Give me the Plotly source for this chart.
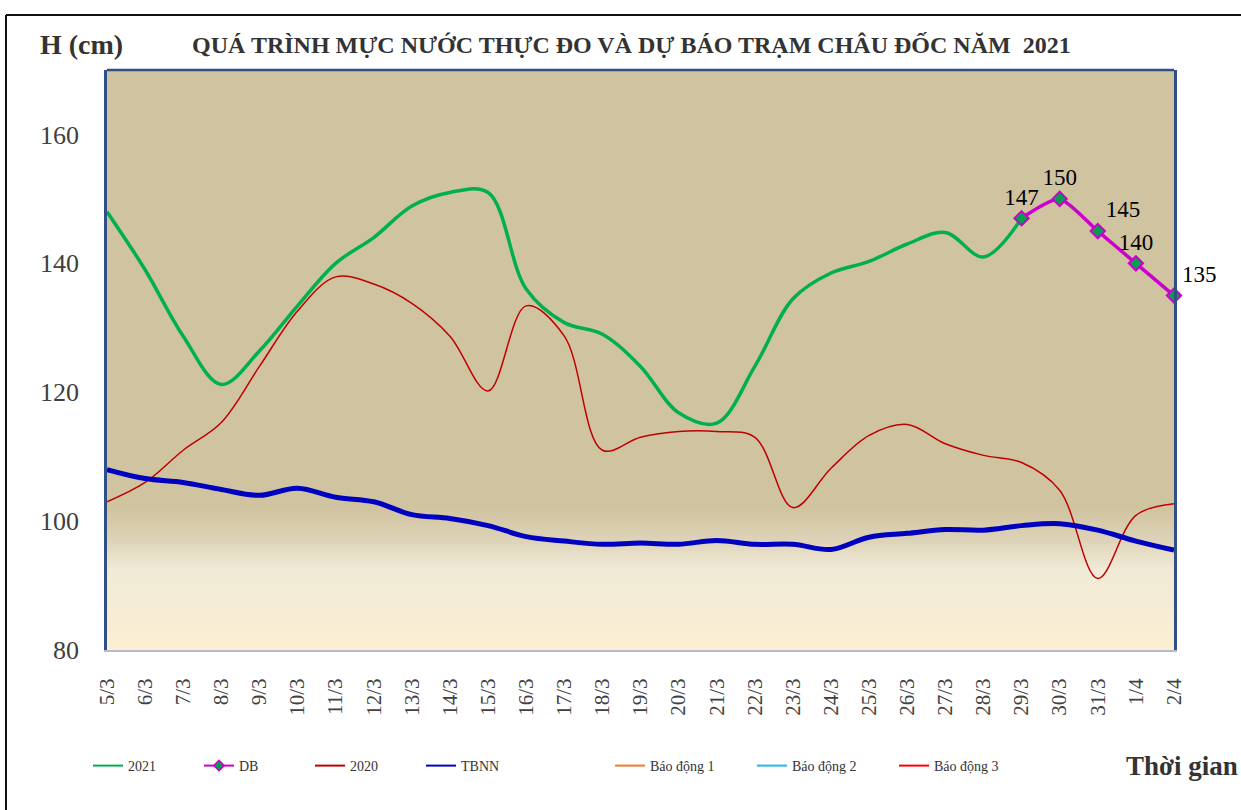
import plotly.graph_objects as go

# ---- data ----
dates = ["5/3", "6/3", "7/3", "8/3", "9/3", "10/3", "11/3", "12/3", "13/3", "14/3",
         "15/3", "16/3", "17/3", "18/3", "19/3", "20/3", "21/3", "22/3", "23/3", "24/3",
         "25/3", "26/3", "27/3", "28/3", "29/3", "30/3", "31/3", "1/4", "2/4"]

h2021 = [148, 139, 128.7, 121.2, 126.4, 133.4, 140, 144, 148.9, 151,
         151, 136, 130.8, 129, 124, 116.8, 115.2, 124, 134.5, 138.5,
         140.3, 143, 144.8, 141, 147]

db_dates = ["29/3", "30/3", "31/3", "1/4", "2/4"]
db_vals = [147, 150, 145, 140, 135]

h2020 = [103, 106, 111, 115.3, 124, 132.6, 137.9, 136.8, 133.8, 128.7,
         120.2, 133.4, 128.7, 111, 113, 113.9, 113.9, 113, 102.1, 108.2,
         113.3, 115, 112, 110.2, 109.1, 104.8, 91.1, 100.9, 102.7]

tbnn = [108, 106.6, 106, 104.9, 104, 105.1, 103.7, 103, 101, 100.4,
        99.3, 97.6, 96.9, 96.4, 96.6, 96.4, 97, 96.4, 96.4, 95.6,
        97.5, 98.1, 98.7, 98.6, 99.3, 99.6, 98.6, 96.9, 95.5]

# alarm levels at Chau Doc (off the visible range, legend only)
alarm_levels = {"Báo động 1": 350, "Báo động 2": 400, "Báo động 3": 450}
alarm_colors = {"Báo động 1": "#F07C28", "Báo động 2": "#1FB8F0", "Báo động 3": "#FF0000"}

FONT = "Liberation Serif, Times New Roman, serif"
W, H = 1241, 810
PL, PR, PT, PB = 107, 1174, 70, 650  # plot area in pixels


def px(x):
    return (x - PL) / (PR - PL)


def py(y):
    return (PB - y) / (PB - PT)


fig = go.Figure()

fig.add_trace(go.Scatter(
    x=dates[:len(h2021)], y=h2021, name="2021", mode="lines", showlegend=False,
    line=dict(color="#00B050", width=3.5, shape="spline", smoothing=1.0),
))
fig.add_trace(go.Scatter(
    x=db_dates, y=db_vals, name="DB", mode="lines+markers+text", showlegend=False,
    line=dict(color="#CC00CC", width=3.5, shape="spline", smoothing=0.6),
    marker=dict(symbol="diamond", size=11, color="#00A050",
                line=dict(color="#CC00CC", width=2)),
    text=[str(v) for v in db_vals],
    textposition=["top center", "top center", "top right", "top center", "top right"],
    textfont=dict(family=FONT, size=23, color="#000000"),
    cliponaxis=False,
))
fig.add_trace(go.Scatter(
    x=dates, y=h2020, name="2020", mode="lines", showlegend=False,
    line=dict(color="#C00000", width=1.5, shape="spline", smoothing=1.0),
))
fig.add_trace(go.Scatter(
    x=dates, y=tbnn, name="TBNN", mode="lines", showlegend=False,
    line=dict(color="#0000C0", width=5, shape="spline", smoothing=1.0),
))

# legend entries drawn thin, like the reference legend
legend_items = [("2021", "#00B050", False), ("DB", "#CC00CC", True),
                ("2020", "#C00000", False), ("TBNN", "#0000C0", False)]
for name, col, mk in legend_items:
    fig.add_trace(go.Scatter(
        x=[None], y=[None], name=name, mode="lines+markers" if mk else "lines",
        line=dict(color=col, width=2),
        marker=dict(symbol="diamond", size=8, color="#00A050",
                    line=dict(color="#CC00CC", width=1.5)),
        legend="legend",
    ))
for name, lvl in alarm_levels.items():
    fig.add_trace(go.Scatter(
        x=dates, y=[lvl] * len(dates), name=name, mode="lines",
        line=dict(color=alarm_colors[name], width=2),
        legend="legend2",
    ))

# background gradient near the bottom of the plot area
stops = [(0.0, (252, 239, 211)), (0.14, (240, 234, 214)),
         (0.19, (221, 211, 184)), (0.245, (208, 195, 160))]
shapes = []
n = 40
top = stops[-1][0]
for i in range(n):
    f0 = top * i / n
    f1 = top * (i + 1) / n
    fm = (f0 + f1) / 2
    for (a, ca), (b, cb) in zip(stops[:-1], stops[1:]):
        if a <= fm <= b:
            t = (fm - a) / (b - a)
            c = tuple(round(ca[k] + (cb[k] - ca[k]) * t) for k in range(3))
            break
    shapes.append(dict(type="rect", xref="paper", yref="paper", x0=0, x1=1,
                       y0=f0, y1=f1 + 0.002, fillcolor="rgb(%d,%d,%d)" % c,
                       line=dict(width=0), layer="below"))

# plot-area top border and outer frame
shapes.append(dict(type="line", xref="paper", yref="paper", x0=0, x1=1, y0=1, y1=1,
                   line=dict(color="#2F4F86", width=2.5)))
shapes.append(dict(type="line", xref="paper", yref="paper", x0=px(6), x1=px(1245),
                   y0=py(15), y1=py(15), line=dict(color="#111111", width=2)))
shapes.append(dict(type="line", xref="paper", yref="paper", x0=px(6), x1=px(6),
                   y0=py(15), y1=py(815), line=dict(color="#111111", width=2)))

fig.update_layout(
    width=W, height=H,
    margin=dict(l=PL, r=W - PR, t=PT, b=H - PB),
    paper_bgcolor="white",
    plot_bgcolor="rgb(208,195,160)",
    font=dict(family=FONT, color="#404040"),
    shapes=shapes,
    showlegend=True,
    legend=dict(orientation="h", x=px(88), y=py(766), xanchor="left", yanchor="middle",
                entrywidth=66, entrywidthmode="pixels", bgcolor="rgba(0,0,0,0)",
                font=dict(family=FONT, size=14, color="#333333")),
    legend2=dict(orientation="h", x=px(610), y=py(766), xanchor="left", yanchor="middle",
                 entrywidth=97, entrywidthmode="pixels", bgcolor="rgba(0,0,0,0)",
                 font=dict(family=FONT, size=14, color="#333333")),
    annotations=[
        dict(text="<b>QUÁ TRÌNH MỰC NƯỚC THỰC ĐO VÀ DỰ BÁO TRẠM CHÂU ĐỐC NĂM  2021</b>",
             xref="paper", yref="paper", x=px(631), y=py(45), yanchor="middle",
             showarrow=False, font=dict(family=FONT, size=24, color="#333333")),
        dict(text="<b>H (cm)</b>", xref="paper", yref="paper", x=px(38), y=py(45),
             xanchor="left", yanchor="middle", showarrow=False,
             font=dict(family=FONT, size=28, color="#333333")),
        dict(text="<b>Thời gian</b>", xref="paper", yref="paper", x=px(1240), y=py(766),
             xanchor="right", yanchor="middle", showarrow=False,
             font=dict(family=FONT, size=27, color="#333333")),
    ],
)

fig.update_xaxes(
    type="category", categoryorder="array", categoryarray=dates,
    range=[0, len(dates) - 1],
    showline=True, linecolor="#B4BCCB", linewidth=2,
    showgrid=False, zeroline=False, ticks="",
    tickangle=-90, ticklabelstandoff=18,
    tickfont=dict(family=FONT, size=21, color="#404040"),
)
fig.update_yaxes(
    range=[80, 170], tickvals=[80, 100, 120, 140, 160],
    showline=True, linecolor="#2F4F86", linewidth=2.5, mirror=True,
    showgrid=False, zeroline=False, ticks="", ticklabelstandoff=20,
    tickfont=dict(family=FONT, size=26, color="#404040"),
)

fig.write_html("out.html", config={"displayModeBar": False},
               post_script="document.body.style.margin='0px';")
